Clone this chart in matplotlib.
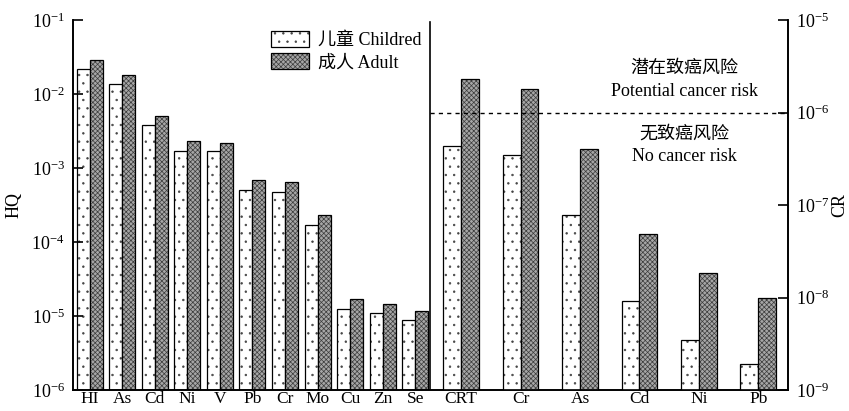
import numpy as np
import matplotlib
matplotlib.use("Agg")
import matplotlib.pyplot as plt
from matplotlib.patches import Patch
from matplotlib.legend_handler import HandlerTuple

plt.rcParams['font.family'] = ['Liberation Serif', 'Noto Sans CJK SC']
plt.rcParams['mathtext.fontset'] = 'stix'
plt.rcParams['hatch.linewidth'] = 0.5

# HQ (non-carcinogenic)
hq_labels = ["HI", "As", "Cd", "Ni", "V", "Pb", "Cr", "Mo", "Cu", "Zn", "Se"]
hq_child = [0.0219, 0.0137, 0.0038, 0.0017, 0.0017, 0.00051, 0.00048, 0.000172, 1.26e-5, 1.09e-5, 8.7e-6]
hq_adult = [0.029, 0.018, 0.0051, 0.0023, 0.0022, 0.00068, 0.00064, 0.00023, 1.72e-5, 1.46e-5, 1.16e-5]

# CR (carcinogenic)
cr_labels = ["CRT", "Cr", "As", "Cd", "Ni", "Pb"]
cr_child = [4.35e-7, 3.47e-7, 7.7e-8, 9.1e-9, 3.5e-9, 1.9e-9]
cr_adult = [2.3e-6, 1.81e-6, 4.07e-7, 4.9e-8, 1.86e-8, 1.0e-8]

legend_labels = ["儿童 Childred", "成人 Adult"]

fig = plt.figure(figsize=(8.49, 4.11), dpi=100)
ax = fig.add_axes([73/849, 21/411, 715/849, 370/411])
ax2 = ax.twinx()

x_hq = np.arange(len(hq_labels))
x_cr = 11.41 + 1.825 * np.arange(len(cr_labels))
w_hq = 0.40
w_cr = 0.547

child_kw = dict(facecolor='white', edgecolor='#444444', hatch='..', linewidth=0)
adult_kw = dict(facecolor='#a6a6a6', edgecolor='#3c3c3c', hatch='xxxxxxx', linewidth=0)
outline_kw = dict(fill=False, edgecolor='black', linewidth=0.9)


def draw(axis, x, vals, w, base, kw, off):
    h = np.array(vals) - base
    bars = axis.bar(x + off, h, w, bottom=base, **kw)
    axis.bar(x + off, h, w, bottom=base, **outline_kw)
    return bars


draw(ax, x_hq, hq_child, w_hq, 1e-6, child_kw, -w_hq/2)
draw(ax, x_hq, hq_adult, w_hq, 1e-6, adult_kw, w_hq/2)
draw(ax2, x_cr, cr_child, w_cr, 1e-9, child_kw, -w_cr/2)
draw(ax2, x_cr, cr_adult, w_cr, 1e-9, adult_kw, w_cr/2)

xmin, xmax = -0.513, 21.45
ax.set_xlim(xmin, xmax)
ax.set_yscale('log')
ax2.set_yscale('log')
ax.set_ylim(1e-6, 1e-1)
ax2.set_ylim(1e-9, 1e-5)

ax.set_yticks([1e-6, 1e-5, 1e-4, 1e-3, 1e-2, 1e-1])
ax2.set_yticks([1e-9, 1e-8, 1e-7, 1e-6, 1e-5])
ax.yaxis.set_minor_locator(matplotlib.ticker.NullLocator())
ax2.yaxis.set_minor_locator(matplotlib.ticker.NullLocator())

ax.set_xticks(np.concatenate([x_hq, x_cr]))
ax.set_xticklabels(hq_labels + cr_labels, fontsize=12.5)
ax.tick_params(axis='x', length=0, pad=1)
ax.tick_params(axis='y', direction='in', length=7, width=1.2, labelsize=13, pad=6)
ax2.tick_params(axis='y', direction='in', length=7, width=1.2, labelsize=13, pad=6)

for a in (ax, ax2):
    a.spines['top'].set_visible(False)
    for s in ('left', 'right', 'bottom'):
        a.spines[s].set_linewidth(1.2)

ax.set_ylabel("HQ", fontsize=13, labelpad=6)
ax2.set_ylabel("CR", fontsize=13, labelpad=1)

xdiv = 10.455
ax.axvline(xdiv, ymin=0, ymax=0.995, color='black', linewidth=1.2)
ax2.plot([xdiv, xmax], [1e-6, 1e-6], linestyle=(0, (3, 3)), color='black', linewidth=1.0)

xt = 18.26
ax2.text(xt, 10**-5.527, "潜在致癌风险", ha='center', va='center', fontsize=13)
ax2.text(xt, 10**-5.774, "Potential cancer risk", ha='center', va='center', fontsize=13)
ax2.text(xt, 10**-6.237, "无致癌风险", ha='center', va='center', fontsize=13)
ax2.text(xt, 10**-6.473, "No cancer risk", ha='center', va='center', fontsize=13)

h_child = (Patch(**child_kw), Patch(**outline_kw))
h_adult = (Patch(**adult_kw), Patch(**outline_kw))
ax2.legend([h_child, h_adult], legend_labels, loc='upper left',
           bbox_to_anchor=(271/849, 1 - 31/411),
           bbox_transform=fig.transFigure, frameon=False, fontsize=13,
           handler_map={tuple: HandlerTuple(ndivide=1, pad=0)},
           handlelength=2.1, handleheight=1.0, handletextpad=0.5, labelspacing=0.2,
           borderaxespad=0, borderpad=0)

fig.savefig("out.png", dpi=100)
